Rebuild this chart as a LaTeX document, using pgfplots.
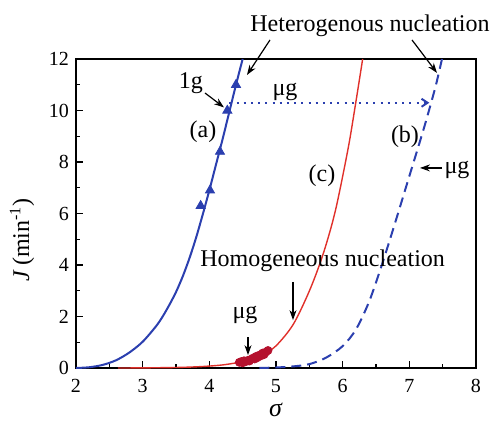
\documentclass[border=0pt]{standalone}
\usepackage{fontspec}
\setmainfont{Liberation Serif}
\usepackage{pgfplots}
\pgfplotsset{compat=1.18}
\usetikzlibrary{arrows.meta}
\definecolor{cblue}{HTML}{2B3FAF}
\definecolor{cred}{HTML}{E0302A}
\definecolor{cdred}{HTML}{B5122E}
\begin{document}
\begin{tikzpicture}
\begin{axis}[
 scale only axis, width=200pt, height=154.5pt,
 xmin=2, xmax=8, ymin=0, ymax=12,
 xtick={2,...,8}, ytick={0,2,...,12},
 xticklabels={2,3,4,5,6,7,8},
 yticklabels={0,2,4,6,8,10,12},
 minor x tick num=1, minor y tick num=1,
 tick pos=left, tick align=inside,
 major tick length=3.5pt, minor tick length=2pt,
 axis line style={line width=0.9pt},
 every tick/.style={black, line width=0.7pt},
 tick label style={font=\rmfamily\fontsize{10}{12}\selectfont},
 xticklabel style={yshift=-2pt},
 clip=false,
]
% (a) 1g heterogeneous, solid blue
\addplot[cblue, line width=1pt, smooth, tension=0.5] coordinates {
(2.0,0) (2.2,0.03) (2.4,0.12) (2.6,0.3) (2.8,0.6) (3.0,1.02) (3.2,1.62) (3.3,2.0) (3.4,2.45)
(3.5,2.95) (3.6,3.55) (3.7,4.25) (3.8,5.05) (3.9,5.95) (4.0,6.9) (4.1,7.9) (4.2,8.9) (4.3,9.95) (4.4,11.0) (4.5,12.0)};
% triangles
\addplot[only marks, mark=triangle*, mark size=2.6pt, cblue] coordinates {
(3.87,6.3) (4.01,6.9) (4.16,8.4) (4.27,10.0) (4.40,11.0)};
% (b) mu-g heterogeneous, dashed blue
\addplot[cblue, line width=1pt, smooth, tension=0.5, dash pattern=on 5pt off 3pt] coordinates {
(4.75,0) (5.0,0.02) (5.25,0.06) (5.5,0.15) (5.75,0.4) (6.0,0.85) (6.2,1.5) (6.4,2.6)
(6.6,4.1) (6.8,5.75) (7.0,7.45) (7.2,9.15) (7.3,10.05) (7.4,11.0) (7.49,12.0)};
% (c) homogeneous, red
\addplot[cred, line width=0.7pt, smooth, tension=0.5] coordinates {
(2.63,0) (3.0,0.005) (3.5,0.02) (3.8,0.045) (4.0,0.075) (4.2,0.12) (4.4,0.2) (4.6,0.33)
(4.8,0.52) (5.0,0.86) (5.26,1.7) (5.51,3.05) (5.71,4.45) (5.89,6.1) (6.08,8.5) (6.19,10.2) (6.3,12.0)};
% red experimental points
\addplot[only marks, mark=*, mark size=2pt, cdred] coordinates {
(4.45,0.22) (4.48,0.25) (4.50,0.20) (4.52,0.28) (4.55,0.25) (4.58,0.30) (4.60,0.27)
(4.62,0.33) (4.65,0.38) (4.68,0.35) (4.70,0.45) (4.72,0.40) (4.75,0.50) (4.78,0.48)
(4.80,0.58) (4.82,0.52) (4.85,0.62) (4.88,0.68)};
% dotted horizontal
\addplot[cblue, line width=1pt, dash pattern=on 1pt off 2.6pt, -{Straight Barb[length=3pt,width=4pt]}] coordinates {
(4.3,10.3) (7.3,10.3)};

\coordinate (bl) at (rel axis cs:0,0);
\coordinate (tr) at (rel axis cs:1,1);
\coordinate (ylab) at (rel axis cs:0,0.415);
\coordinate (xlab) at (rel axis cs:0.5,0);

\begin{scope}[every node/.style={font=\fontsize{12}{14}\selectfont, inner sep=0pt}]
\node at (axis cs:6.41,13.3) {Heterogenous nucleation};
\node at (axis cs:3.725,11.07) {1g};
\node at (axis cs:5.135,10.72) {μg};
\node at (axis cs:3.905,9.17) {(a)};
\node at (axis cs:6.935,8.97) {(b)};
\node at (axis cs:7.715,7.69) {μg};
\node at (axis cs:5.69,7.46) {(c)};
\node at (axis cs:5.70,4.16) {Homogeneous nucleation};
\node at (axis cs:4.535,2.06) {μg};
\end{scope}
\begin{scope}[-{Stealth[length=5pt,width=3.5pt]}, line width=0.6pt, black]
\draw (axis cs:4.91,12.74) -- (axis cs:4.565,11.38);
\draw (axis cs:7.04,12.74) -- (axis cs:7.415,11.46);
\draw (axis cs:3.935,10.68) -- (axis cs:4.22,10.12);
\draw (axis cs:7.49,7.77) -- (axis cs:7.16,7.77);
\draw (axis cs:5.255,3.34) -- (axis cs:5.255,1.86);
\draw (axis cs:4.58,1.2) -- (axis cs:4.58,0.5);
\end{scope}
\end{axis}
\node[rotate=90, font=\fontsize{12}{14}\selectfont] at ([xshift=-27pt]ylab) {\textit{J}\,(min\textsuperscript{-1})};
\node[font=\fontsize{13}{14}\selectfont] at ([yshift=-21pt]xlab) {\textit{σ}};
\pgfresetboundingbox
\path ([shift={(-38pt,-28pt)}]bl) rectangle ([shift={(8.5pt,29.5pt)}]tr);
\end{tikzpicture}
\end{document}
